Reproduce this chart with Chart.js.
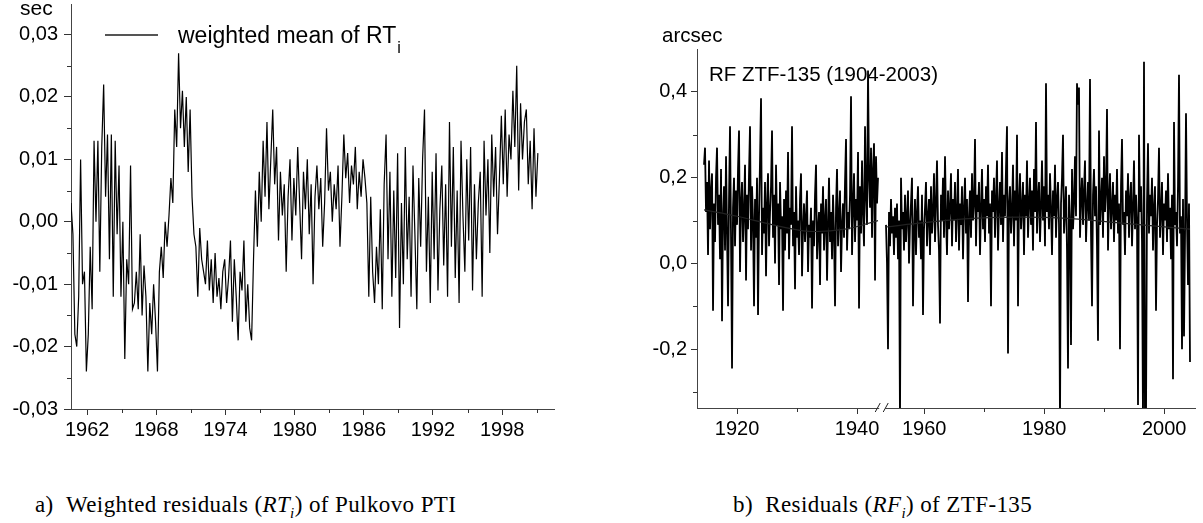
<!DOCTYPE html>
<html>
<head>
<meta charset="utf-8">
<script src="https://cdn.jsdelivr.net/npm/chart.js@4"></script>
<style>
    body { margin: 0; background: #fff; width: 1203px; height: 523px; position: relative; overflow: hidden;
           font-family: "Liberation Sans", Arial, sans-serif; color: #000; }
    .box { position: absolute; top: 0; height: 440px; }
    #boxA { left: 0; width: 600px; }
    #boxB { left: 600px; width: 603px; }
    .lbl { position: absolute; white-space: nowrap; line-height: 1; }
    .cap { position: absolute; top: 493px; white-space: nowrap; line-height: 1; letter-spacing: 0.4px;
           font-family: "Liberation Serif", "DejaVu Serif", serif; font-size: 23px; }
    #legLine { position: absolute; left: 105px; top: 34px; width: 53px; height: 1.5px; background: #555; }
</style>
</head>
<body>
<div class="box" id="boxA"><canvas id="rtChart" width="600" height="440"></canvas></div>
<div class="box" id="boxB"><canvas id="rfChart" width="603" height="440"></canvas></div>

<span class="lbl" style="left:20px; top:-3px; font-size:21px;">sec</span>
<div id="legLine"></div>
<span class="lbl" style="left:178px; top:24px; font-size:23px;">weighted mean of RT<span style="font-size:16px; position:relative; top:10px; margin-left:1px;">i</span></span>

<span class="lbl" style="left:662px; top:25px; font-size:20.5px;">arcsec</span>
<span class="lbl" style="left:709px; top:64px; font-size:20.5px;">RF ZTF-135 (1904-2003)</span>

<span class="cap" style="left:35px;">a)&nbsp;&nbsp;Weighted residuals (<i>RT<sub style="font-size:15px">i</sub></i>) of Pulkovo PTI</span>
<span class="cap" style="left:733px;">b)&nbsp;&nbsp;Residuals (<i>RF<sub style="font-size:15px">i</sub></i>) of ZTF-135</span>

<script>
// weighted mean of RT_i, Pulkovo PTI (sec), one value every 1/6 year
const rtStart = 1960.6;
const rtStep = 1 / 6;
const rtValues = [
    0.003, -0.002, -0.018,
    -0.020, -0.012, 0.010, -0.010, -0.008, -0.024,
    -0.018, -0.004, -0.014, 0.013, 0.000, 0.013,
    -0.008, 0.012, 0.022, 0.004, 0.014, -0.006,
    0.014, -0.012, 0.013, -0.002, 0.009, -0.012,
    0.000, -0.022, -0.006, -0.010, 0.009, -0.014,
    -0.013, -0.008, -0.014, -0.002, -0.015, -0.007,
    -0.012, -0.024, -0.013, -0.018, -0.010, -0.016,
    -0.024, -0.008, -0.004, -0.009, 0.000, -0.004,
    0.001, 0.007, 0.003, 0.018, 0.012, 0.027,
    0.015, 0.021, 0.012, 0.020, 0.008, 0.018,
    0.004, -0.002, -0.004, -0.012, -0.001, -0.006,
    -0.008, -0.010, -0.003, -0.011, -0.006, -0.013,
    -0.005, -0.012, -0.009, -0.014, -0.008, -0.006,
    -0.013, -0.009, -0.003, -0.016, -0.006, -0.012,
    -0.019, -0.008, -0.011, -0.003, -0.016, -0.010,
    -0.017, -0.019, -0.006, 0.005, -0.004, 0.008,
    0.000, 0.013, 0.004, 0.016, 0.002, 0.010,
    0.018, 0.006, 0.012, -0.003, 0.008, 0.001,
    0.006, -0.008, 0.004, 0.010, -0.003, 0.007,
    0.001, 0.012, 0.003, -0.006, 0.008, 0.002,
    0.010, -0.002, 0.006, -0.010, 0.004, 0.009,
    0.002, 0.007, -0.004, 0.003, 0.015, 0.005,
    0.008, 0.000, 0.006, 0.002, 0.009, -0.004,
    0.004, 0.014, 0.007, 0.011, 0.003, 0.009,
    0.006, 0.012, 0.002, 0.008, 0.004, 0.010,
    0.007, 0.003, -0.012, 0.004, -0.008, -0.013,
    -0.004, -0.010, 0.002, -0.014, 0.006, 0.014,
    -0.006, 0.008, -0.012, 0.005, -0.009, 0.011,
    -0.017, 0.003, -0.010, 0.012, -0.006, 0.004,
    -0.012, 0.009, -0.002, -0.014, 0.007, -0.004,
    0.010, 0.018, -0.008, 0.004, -0.013, 0.008,
    -0.006, 0.011, -0.011, 0.002, 0.009, -0.007,
    0.006, -0.012, 0.016, -0.004, 0.012, -0.009,
    0.005, -0.013, 0.013, 0.001, -0.008, 0.010,
    -0.003, 0.012, -0.011, 0.006, -0.006, 0.003,
    0.008, -0.012, 0.013, 0.001, 0.010, -0.005,
    0.014, 0.004, 0.012, -0.002, 0.007, 0.017,
    0.006, 0.018, 0.004, 0.014, 0.010, 0.021,
    0.012, 0.025, 0.005, 0.019, 0.010, 0.016,
    0.018, 0.006, 0.013, 0.002, 0.015, 0.004, 0.011
];
const rtYearTicks = [1962, 1968, 1974, 1980, 1986, 1992, 1998];
const rtYearMinor = [1965, 1971, 1977, 1983, 1989, 1995, 2001];
const rtValueTicks = [-0.03, -0.02, -0.01, 0, 0.01, 0.02, 0.03];
const rtValueMinor = [-0.025, -0.015, -0.005, 0.005, 0.015, 0.025];

// residuals RF_i of ZTF-135 (arcsec), one value every 1/6 year
const rfStep = 1 / 6;
const rfEarlyStart = 1914.5;
const rfEarlyValues = [
    0.23, 0.27, 0.12, 0.19, 0.02, 0.24, 0.08, 0.17, 0.21, -0.11,
    0.14, 0.05, 0.20, 0.27, 0.09, 0.16, 0.01, 0.22, -0.135, 0.11,
    0.18, 0.03, 0.25, 0.07, -0.10, 0.15, 0.32, 0.06, -0.245, 0.13,
    0.20, 0.04, 0.17, 0.09, 0.22, 0.31, -0.02, 0.14, 0.19, 0.05,
    0.12, 0.23, -0.04, 0.16, 0.08, 0.21, 0.32, 0.03, 0.18, 0.10,
    -0.10, 0.15, 0.06, 0.20, -0.12, 0.11, 0.24, 0.385, 0.02, 0.13,
    0.07, 0.19, -0.03, 0.14, 0.21, 0.04, 0.12, 0.18, 0.31, 0.06,
    0.16, 0.00, 0.23, 0.09, 0.14, -0.05, 0.19, 0.08, 0.11, -0.11,
    0.15, 0.03, 0.17, 0.07, 0.26, 0.01, 0.13, 0.09, 0.32, 0.04,
    0.12, -0.06, 0.18, 0.06, 0.10, 0.02, 0.15, 0.21, -0.03, 0.08,
    0.14, 0.05, 0.11, 0.17, -0.02, 0.09, 0.06, 0.13, -0.105, 0.10,
    0.04, 0.16, 0.23, 0.01, 0.08, 0.12, -0.05, 0.14, 0.07, 0.18,
    0.03, 0.10, 0.15, -0.04, 0.09, 0.20, 0.05, 0.12, 0.01, 0.16,
    0.07, -0.10, 0.13, 0.22, 0.04, 0.11, 0.17, -0.02, 0.09, 0.14,
    0.06, 0.19, 0.29, 0.03, 0.12, 0.08, 0.16, 0.39, 0.02, 0.13,
    0.21, 0.05, 0.15, 0.10, 0.26, -0.105, 0.18, 0.07, 0.24, 0.12,
    0.04, 0.32, 0.16, 0.09, 0.45, 0.20, 0.13, 0.27, 0.06, 0.22,
    0.28, -0.04, 0.25, 0.14, 0.20
];
const rfLateStart = 1953.63;
const rfLateValues = [
    0.09, 0.00, -0.20, 0.12, 0.04, 0.15, 0.07, 0.11, 0.02, 0.13,
    0.06, 0.14, 0.01, 0.10, -0.37, 0.20, 0.08, 0.12, 0.03, 0.16,
    0.05, 0.11, 0.17, 0.00, 0.09, 0.14, 0.20, -0.10, 0.07, 0.15,
    0.02, 0.12, 0.18, 0.06, 0.10, 0.01, 0.16, -0.12, 0.08, 0.13,
    0.19, 0.04, 0.11, 0.15, 0.02, 0.18, 0.07, 0.12, 0.21, 0.05,
    0.14, 0.24, 0.09, 0.03, -0.14, 0.16, 0.10, 0.20, 0.06, 0.25,
    0.11, 0.02, 0.17, 0.08, 0.13, 0.21, 0.04, 0.15, 0.10, 0.19,
    0.05, 0.12, 0.22, 0.03, 0.14, 0.09, 0.18, 0.01, 0.13, 0.20,
    0.07, 0.15, -0.09, 0.11, 0.17, 0.06, 0.21, 0.10, 0.14, 0.29,
    0.04, 0.16, 0.12, 0.19, 0.02, 0.13, 0.22, 0.08, 0.15, 0.05,
    0.18, 0.11, 0.23, 0.07, 0.14, -0.10, 0.17, 0.12, 0.20, 0.06,
    0.15, 0.24, 0.03, 0.13, 0.19, 0.09, 0.26, 0.05, 0.16, 0.11,
    0.22, 0.32, -0.21, 0.14, 0.18, 0.07, 0.12, 0.23, 0.04, 0.17,
    0.10, 0.30, -0.10, 0.15, 0.21, 0.08, 0.13, 0.19, 0.02, 0.16,
    0.11, 0.24, 0.06, 0.14, 0.20, 0.09, 0.17, 0.03, 0.22, 0.12,
    0.33, 0.07, 0.15, 0.19, 0.05, 0.13, 0.24, 0.10, 0.18, 0.04,
    0.42, 0.12, 0.16, 0.08, 0.21, 0.13, 0.02, 0.17, 0.11, 0.23,
    0.06, 0.15, 0.19, 0.09, -0.37, 0.14, 0.20, 0.30, 0.07, 0.12,
    0.18, 0.03, -0.245, 0.16, 0.10, -0.19, 0.22, 0.08, 0.14, 0.25,
    0.11, 0.42, 0.37, 0.41, 0.06, 0.15, 0.20, 0.09, 0.17, 0.24,
    0.05, 0.13, 0.19, 0.10, 0.43, 0.07, -0.10, 0.16, 0.22, 0.11,
    0.18, 0.04, -0.18, 0.31, 0.09, 0.14, 0.20, 0.06, 0.25, 0.12,
    0.17, 0.36, 0.03, 0.15, 0.21, 0.08, 0.13, 0.19, 0.05, 0.16,
    0.10, 0.22, 0.07, 0.14, -0.20, 0.18, 0.29, 0.09, 0.12, 0.02,
    0.17, 0.11, 0.21, 0.06, 0.15, 0.19, 0.04, 0.13, 0.24, 0.08,
    0.16, 0.10, -0.33, 0.30, 0.12, 0.18, 0.05, -0.37, 0.47, -0.37,
    -0.36, 0.14, 0.28, 0.07, 0.16, 0.11, 0.20, 0.03, 0.13, 0.18,
    -0.11, 0.09, 0.15, 0.27, 0.06, 0.12, 0.19, 0.02, 0.14, 0.10,
    0.17, 0.05, 0.21, 0.08, 0.13, 0.01, 0.16, -0.27, 0.33, 0.09,
    0.12, 0.04, 0.18, 0.44, 0.07, 0.11, -0.20, 0.15, -0.17, 0.06,
    0.35, 0.10, -0.05, 0.14, -0.23
];
const rfTrendEarlyYears = [1914.5, 1920, 1926, 1932, 1938, 1943.5];
const rfTrendEarlyValues = [0.125, 0.11, 0.09, 0.075, 0.08, 0.10];
const rfTrendLateYears = [1953.6, 1960, 1968, 1976, 1984, 1992, 2004.3];
const rfTrendLateValues = [0.085, 0.095, 0.105, 0.108, 0.105, 0.095, 0.08];
const rfYearTicks = [1920, 1940, 1960, 1980, 2000];
const rfYearMinor = [1930, 1970, 1990];
const rfValueTicks = [-0.2, 0, 0.2, 0.4];
const rfValueMinor = [-0.3, -0.1, 0.1, 0.3];
const RF_GAP = 8.8;          // years squeezed out of the axis at the break
const RF_BREAK = 1944.2;     // axis position of the // mark

let rtChart, rfChart;

function toAxis(year) {
    return year > 1945 ? year - RF_GAP : year;
}

function seriesPoints(start, step, values, shift) {
    return values.map((v, i) => ({ x: shift(start + i * step), y: v }));
}

// short minor ticks, Chart.js only draws one tick length
const minorTicks = {
    id: 'minorTicks',
    afterDraw(chart, args, opts) {
        const ctx = chart.ctx;
        const xs = chart.scales.x, ys = chart.scales.y;
        ctx.save();
        ctx.strokeStyle = '#333';
        ctx.lineWidth = 1;
        ctx.beginPath();
        (opts.x || []).forEach(v => {
            const px = Math.round(xs.getPixelForValue(v)) + 0.5;
            ctx.moveTo(px, xs.top);
            ctx.lineTo(px, xs.top + opts.len);
        });
        (opts.y || []).forEach(v => {
            const py = Math.round(ys.getPixelForValue(v)) + 0.5;
            ctx.moveTo(ys.right, py);
            ctx.lineTo(ys.right - opts.len, py);
        });
        ctx.stroke();
        ctx.restore();
    }
};

const axisBreak = {
    id: 'axisBreak',
    afterDraw(chart, args, opts) {
        if (!opts.at) return;
        const ctx = chart.ctx;
        const xs = chart.scales.x;
        const px = xs.getPixelForValue(opts.at);
        const py = xs.top;
        ctx.save();
        ctx.fillStyle = '#fff';
        ctx.fillRect(px - 3, py - 2, 6, 4);
        ctx.strokeStyle = '#222';
        ctx.lineWidth = 1;
        ctx.beginPath();
        ctx.moveTo(px - 7, py + 4); ctx.lineTo(px - 2, py - 5);
        ctx.moveTo(px + 1, py + 4); ctx.lineTo(px + 6, py - 5);
        ctx.stroke();
        ctx.restore();
    }
};

function axisStyle(tickLen) {
    return {
        display: true,
        drawOnChartArea: false,
        drawTicks: true,
        tickLength: tickLen,
        tickColor: '#333',
        tickWidth: 1
    };
}

// keep Chart.js from reserving room for half tick labels at the axis ends
function noEdgePadding(s) {
    s.paddingTop = 0;
    s.paddingBottom = 0;
    s.paddingLeft = 0;
    s.paddingRight = 0;
}

function initializeCharts() {
    Chart.defaults.font.family = '"Liberation Sans", Arial, sans-serif';
    Chart.defaults.font.size = 20;
    Chart.defaults.color = '#000';

    rtChart = new Chart(document.getElementById('rtChart').getContext('2d'), {
        type: 'line',
        data: {
            datasets: [{
                data: seriesPoints(rtStart, rtStep, rtValues, y => y),
                borderColor: '#000',
                borderWidth: 1.2,
                pointRadius: 0,
                tension: 0
            }]
        },
        options: {
            responsive: false,
            animation: false,
            layout: { padding: { top: 4, right: 46, left: 0, bottom: 0 } },
            plugins: {
                legend: { display: false },
                tooltip: { enabled: false },
                minorTicks: { x: rtYearMinor, y: rtValueMinor, len: 4 }
            },
            scales: {
                x: {
                    type: 'linear', min: 1960.6, max: 2002.5,
                    grid: axisStyle(6),
                    border: { display: true, color: '#444', width: 1 },
                    afterBuildTicks: s => { s.ticks = rtYearTicks.map(v => ({ value: v })); },
                    afterFit: s => { s.height = 31; noEdgePadding(s); },
                    ticks: { padding: 3, maxRotation: 0, autoSkip: false, callback: v => String(v) }
                },
                y: {
                    min: -0.03, max: 0.0349,
                    grid: axisStyle(7),
                    border: { display: true, color: '#444', width: 1 },
                    afterBuildTicks: s => { s.ticks = rtValueTicks.map(v => ({ value: v })); },
                    afterFit: s => { s.width = 71; noEdgePadding(s); },
                    ticks: { padding: 6, callback: v => v.toFixed(2).replace('.', ',') }
                }
            }
        },
        plugins: [minorTicks]
    });

    rfChart = new Chart(document.getElementById('rfChart').getContext('2d'), {
        type: 'line',
        data: {
            datasets: [{
                data: rfTrendEarlyYears.map((y, i) => ({ x: toAxis(y), y: rfTrendEarlyValues[i] })),
                borderColor: '#222', borderWidth: 1.2, pointRadius: 0, tension: 0.4, order: 0
            }, {
                data: rfTrendLateYears.map((y, i) => ({ x: toAxis(y), y: rfTrendLateValues[i] })),
                borderColor: '#222', borderWidth: 1.2, pointRadius: 0, tension: 0.4, order: 0
            }, {
                data: seriesPoints(rfEarlyStart, rfStep, rfEarlyValues, toAxis),
                borderColor: '#000', borderWidth: 1.8, pointRadius: 0, tension: 0, order: 1
            }, {
                data: seriesPoints(rfLateStart, rfStep, rfLateValues, toAxis),
                borderColor: '#000', borderWidth: 1.8, pointRadius: 0, tension: 0, order: 1
            }]
        },
        options: {
            responsive: false,
            animation: false,
            layout: { padding: { top: 49, right: 8, left: 0, bottom: 0 } },
            plugins: {
                legend: { display: false },
                tooltip: { enabled: false },
                minorTicks: { x: rfYearMinor.map(toAxis), y: rfValueMinor, len: 4 },
                axisBreak: { at: RF_BREAK }
            },
            scales: {
                x: {
                    type: 'linear', min: 1913.33, max: 1996.33,
                    grid: axisStyle(6),
                    border: { display: true, color: '#444', width: 1 },
                    afterBuildTicks: s => { s.ticks = rfYearTicks.map(v => ({ value: toAxis(v) })); },
                    afterFit: s => { s.height = 32; noEdgePadding(s); },
                    ticks: {
                        padding: 3, maxRotation: 0, autoSkip: false,
                        callback: (v, i) => String(rfYearTicks[i])
                    }
                },
                y: {
                    min: -0.337, max: 0.5,
                    grid: axisStyle(6),
                    border: { display: true, color: '#444', width: 1 },
                    afterBuildTicks: s => { s.ticks = rfValueTicks.map(v => ({ value: v })); },
                    afterFit: s => { s.width = 97; noEdgePadding(s); },
                    ticks: { padding: 4, callback: v => v.toFixed(1).replace('.', ',') }
                }
            }
        },
        plugins: [minorTicks, axisBreak]
    });
}

window.onload = () => {
    initializeCharts();
};
</script>
</body>
</html>
